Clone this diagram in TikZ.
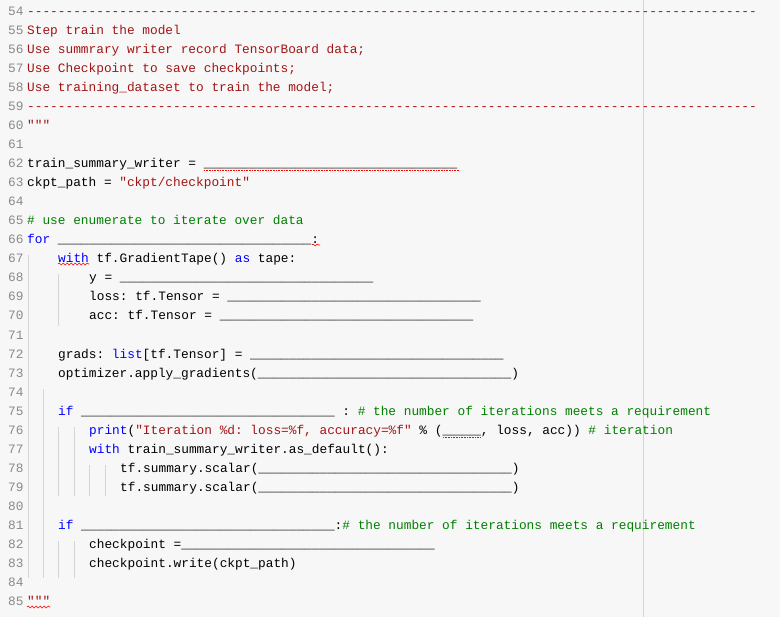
\documentclass[tikz,border=0pt]{standalone}
\usepackage{fontspec}
\setmonofont{Liberation Mono}
\usetikzlibrary{decorations.pathmorphing}
\definecolor{bg}{HTML}{F7F7F7}
\definecolor{lnum}{HTML}{8A8A8A}
\definecolor{kw}{HTML}{0000FF}
\definecolor{str}{HTML}{A31515}
\definecolor{cmt}{HTML}{008000}
\definecolor{guide}{HTML}{D4D4D4}
\newcommand{\K}[1]{\textcolor{kw}{#1}}
\newcommand{\Str}[1]{\textcolor{str}{#1}}
\newcommand{\Cm}[1]{\textcolor{cmt}{#1}}
\newcommand{\blankk}{\_\_\_\_\_\_\_\_\_\_\_\_\_\_\_\_\_\_\_\_\_\_\_\_\_\_\_\_\_\_\_\_\_}
\begin{document}
\begin{tikzpicture}[x=1pt,y=-1pt,
  code/.style={anchor=base west,inner sep=0pt,font=\ttfamily\fontsize{12.8}{14}\selectfont},
  lno/.style={code,text=lnum},
  squig/.style={draw=red,decorate,decoration={snake,amplitude=1pt,segment length=4pt},line width=0.6pt}]
\fill[bg] (0,0) rectangle (780,617);
\useasboundingbox (0,0) rectangle (780,617);
\draw[guide] (643,0) -- (643,617);
% indent guides
\draw[guide] (28,255) -- (28,578);
\draw[guide] (43,389) -- (43,578);
\draw[guide] (58,274) -- (58,326);
\foreach \x in {58,74} {\draw[guide] (\x,427) -- (\x,496); \draw[guide] (\x,541) -- (\x,578);}
\foreach \x in {89,105} {\draw[guide] (\x,465) -- (\x,496);}
% line numbers
\foreach \n [count=\i from 0] in {54,...,85} {
  \node[lno] (n\n) at (8,{15.5+\i*19.03}) {\n};
}
\newcommand{\ly}[1]{{15.5+(#1-54)*19.03}}
\node[code,text=str] (l54) at (27,\ly{54}) {-----------------------------------------------------------------------------------------------};
\node[code,text=str] (l55) at (27,\ly{55}) {Step train the model};
\node[code,text=str] (l56) at (27,\ly{56}) {Use summrary writer record TensorBoard data;};
\node[code,text=str] (l57) at (27,\ly{57}) {Use Checkpoint to save checkpoints;};
\node[code,text=str] (l58) at (27,\ly{58}) {Use training\_dataset to train the model;};
\node[code,text=str] (l59) at (27,\ly{59}) {-----------------------------------------------------------------------------------------------};
\node[code,text=str] (l60) at (27,\ly{60}) {"""};
\node[code] (l62) at (27,\ly{62}) {train\_summary\_writer = \blankk};
\node[code] (l63) at (27,\ly{63}) {ckpt\_path = \Str{"ckpt/checkpoint"}};
\node[code] (l65) at (27,\ly{65}) {\Cm{\# use enumerate to iterate over data}};
\node[code] (l66) at (27,\ly{66}) {\K{for} \blankk:};
\node[code] (l67) at (58,\ly{67}) {\K{with} tf.GradientTape() \K{as} tape:};
\node[code] (l68) at (89,\ly{68}) {y = \blankk};
\node[code] (l69) at (89,\ly{69}) {loss: tf.Tensor = \blankk};
\node[code] (l70) at (89,\ly{70}) {acc: tf.Tensor = \blankk};
\node[code] (l72) at (58,\ly{72}) {grads: \K{list}[tf.Tensor] = \blankk};
\node[code] (l73) at (58,\ly{73}) {optimizer.apply\_gradients(\blankk)};
\node[code] (l75) at (58,\ly{75}) {\K{if} \blankk\ : \Cm{\# the number of iterations meets a requirement}};
\node[code] (l76) at (89,\ly{76}) {\K{print}(\Str{"Iteration \%d: loss=\%f, accuracy=\%f"} \% (\_\_\_\_\_, loss, acc)) \Cm{\# iteration}};
\node[code] (l77) at (89,\ly{77}) {\K{with} train\_summary\_writer.as\_default():};
\node[code] (l78) at (120,\ly{78}) {tf.summary.scalar(\blankk)};
\node[code] (l79) at (120,\ly{79}) {tf.summary.scalar(\blankk)};
\node[code] (l81) at (58,\ly{81}) {\K{if} \blankk:\Cm{\# the number of iterations meets a requirement}};
\node[code] (l82) at (89,\ly{82}) {checkpoint =\blankk};
\node[code] (l83) at (89,\ly{83}) {checkpoint.write(ckpt\_path)};
\node[code,text=str] (l85) at (27,\ly{85}) {"""};
% squiggles
\draw[squig] (58,264) -- (89,264);
\draw[squig] (312,245) -- (320,245);
\draw[squig] (27,607) -- (50,607);
\draw[red,densely dotted,line width=0.6pt] (204,170.5) -- (460,170.5);
\draw[red,densely dotted,line width=0.6pt] (443,437.5) -- (481,437.5);
\end{tikzpicture}
\end{document}
